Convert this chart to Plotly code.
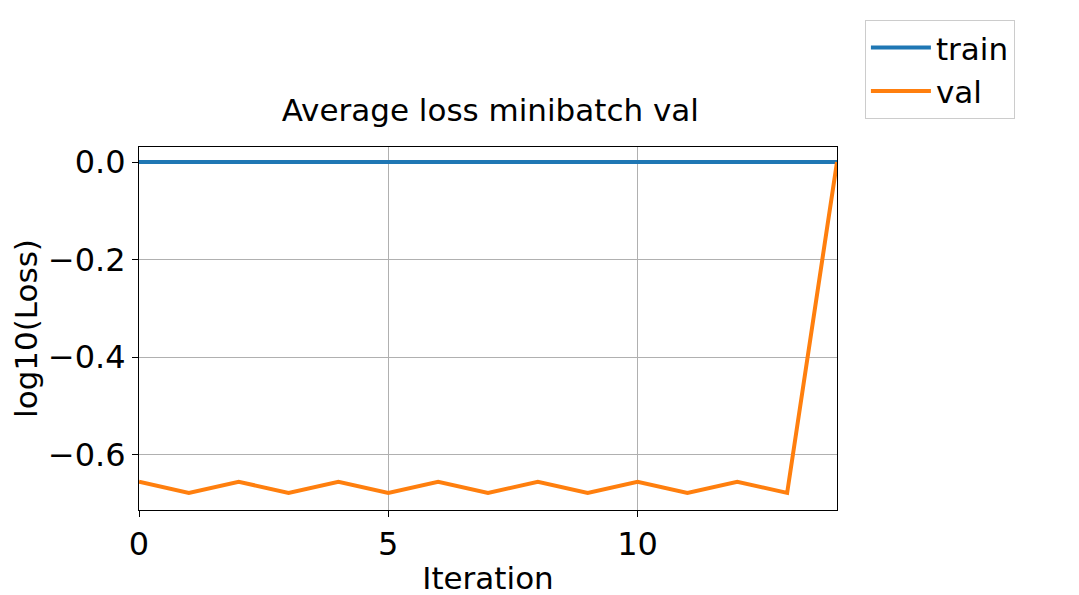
import plotly.graph_objects as go

iterations = list(range(15))
train_loss = [0.0] * 15
val_loss = [-0.656, -0.679, -0.656, -0.679, -0.656, -0.679, -0.656, -0.679,
            -0.656, -0.679, -0.656, -0.679, -0.656, -0.679, 0.0]

font = "DejaVu Sans"

fig = go.Figure()
fig.add_trace(go.Scatter(x=iterations, y=train_loss, name="train", mode="lines",
                         line=dict(color="#1f77b4", width=4)))
fig.add_trace(go.Scatter(x=iterations, y=val_loss, name="val", mode="lines",
                         line=dict(color="#ff7f0e", width=4)))

axis_common = dict(showline=True, linecolor="black", linewidth=1, mirror=True,
                   showgrid=True, gridcolor="#b0b0b0", gridwidth=1, zeroline=False,
                   ticks="outside", ticklen=6, tickcolor="black",
                   tickfont=dict(size=32, color="black", family=font))

fig.update_layout(
    width=1079, height=595,
    paper_bgcolor="white", plot_bgcolor="white",
    margin=dict(l=131, r=250, t=103, b=93),
    title=dict(text="Average loss minibatch val", x=0.447, xanchor="center",
               y=0.81, yanchor="bottom",
               font=dict(size=31, color="black", family=font)),
    xaxis=dict(range=[0, 14], tickvals=[0, 5, 10],
               title=dict(text="Iteration", font=dict(size=31, color="black", family=font),
                          standoff=4),
               **axis_common),
    yaxis=dict(range=[-0.714, 0.031], tickvals=[-0.6, -0.4, -0.2, 0.0], tickformat=".1f",
               title=dict(text="log10(Loss)", font=dict(size=31, color="black", family=font),
                          standoff=6),
               **axis_common),
    legend=dict(x=1.04, y=1.35, xanchor="left", yanchor="top", itemwidth=60,
                bordercolor="#cccccc", borderwidth=1, bgcolor="white",
                font=dict(size=31, color="black", family=font)),
)

fig.write_html("out.html")
